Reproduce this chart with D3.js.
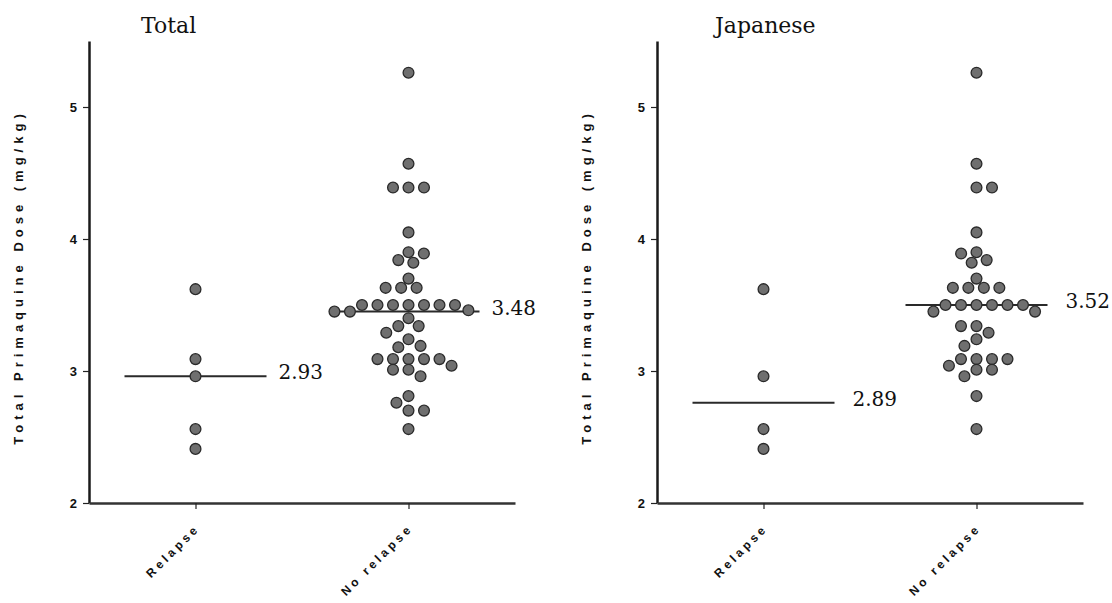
<!DOCTYPE html>
<html>
<head>
<meta charset="utf-8">
<script src="https://cdn.jsdelivr.net/npm/d3@7"></script>
<style>
  body { margin: 0; background: #fff; }
  svg { display: block; }
</style>
</head>
<body>
<svg id="chart" width="1112" height="603"></svg>
<script>
// values
var categories = ["Relapse", "No relapse"];
var panelTitles = ["Total", "Japanese"];
var yTicks = [2, 3, 4, 5];

var totalRelapse = [3.62, 3.09, 2.96, 2.56, 2.41];
var totalNoRelapse = [5.26, 4.57, 4.39, 4.39, 4.39, 4.05, 3.90, 3.89, 3.84, 3.82, 3.70,
  3.63, 3.63, 3.63, 3.50, 3.50, 3.50, 3.50, 3.50, 3.50, 3.50, 3.46, 3.45, 3.45, 3.40,
  3.34, 3.34, 3.29, 3.24, 3.19, 3.18, 3.09, 3.09, 3.09, 3.09, 3.09, 3.04, 3.01, 3.01,
  2.96, 2.81, 2.76, 2.70, 2.70, 2.56];
var totalMeans = ["2.93", "3.48"];

var japaneseRelapse = [3.62, 2.96, 2.56, 2.41];
var japaneseNoRelapse = [5.26, 4.57, 4.39, 4.39, 4.05, 3.90, 3.89, 3.84, 3.82, 3.70,
  3.63, 3.63, 3.63, 3.63, 3.50, 3.50, 3.50, 3.50, 3.50, 3.50, 3.45, 3.45, 3.34, 3.34,
  3.29, 3.24, 3.19, 3.09, 3.09, 3.09, 3.09, 3.04, 3.01, 3.01, 2.96, 2.81, 2.56];
var japaneseMeans = ["2.89", "3.52"];

var panels = [
  { title: panelTitles[0], x0: 89, groups: [totalRelapse, totalNoRelapse], means: totalMeans, titleDx: 52, gap: 12 },
  { title: panelTitles[1], x0: 657, groups: [japaneseRelapse, japaneseNoRelapse], means: japaneseMeans, titleDx: 58, gap: 18 }
];

var plotWidth = 426;
var dotR = 5.4;
var swarmDx = 15.5;   // horizontal spacing of dots on one row
var swarmDy = 10.5;   // vertical reach of a dot
var lineHalf = 71;

var svg = d3.select("#chart");

var yScale = d3.scaleLinear().domain([2, 5.5]).range([503, 41]);

// beeswarm: each dot goes to the free x nearest the centre (elliptic spacing)
function swarm(values) {
  var pts = values.map(function (v) { return { v: v, y: yScale(v) }; })
    .sort(function (a, b) { return a.y - b.y; });
  var placed = [];
  var side = 1;
  pts.forEach(function (p) {
    var near = placed.filter(function (q) { return Math.abs(q.y - p.y) < swarmDy; });
    var cands = [0];
    near.forEach(function (q) {
      var t = (q.y - p.y) / swarmDy;
      var w = swarmDx * Math.sqrt(1 - t * t);
      cands.push(q.x + w, q.x - w);
    });
    var ok = cands.filter(function (x) {
      return near.every(function (q) {
        var a = (x - q.x) / swarmDx, b = (p.y - q.y) / swarmDy;
        return a * a + b * b >= 0.999;
      });
    });
    ok.sort(function (a, b) {
      var d = Math.abs(a) - Math.abs(b);
      if (Math.abs(d) > 0.5) return d;
      return side * (b - a);
    });
    p.x = ok[0];
    if (Math.abs(p.x) > 0.5) side = -side;
    placed.push(p);
  });
  return pts;
}

panels.forEach(function (pan) {
  var g = svg.append("g").attr("class", "panel");

  var xScale = d3.scalePoint()
    .domain(categories)
    .range([pan.x0, pan.x0 + plotWidth])
    .padding(0.5);

  // title
  g.append("text")
    .attr("x", pan.x0 + pan.titleDx)
    .attr("y", 33)
    .style("font-family", "'DejaVu Serif', serif")
    .style("font-size", "22px")
    .style("fill", "#111")
    .text(pan.title);

  // y axis
  var yAxis = d3.axisLeft(yScale)
    .tickValues(yTicks)
    .tickFormat(d3.format("d"))
    .tickSize(6)
    .tickPadding(6)
    .tickSizeOuter(0);

  g.append("g")
    .attr("class", "y-axis")
    .attr("transform", "translate(" + pan.x0 + ",0)")
    .call(yAxis)
    .call(function (a) {
      a.select(".domain").style("stroke", "#1a1a1a").style("stroke-width", 2.5);
      a.selectAll(".tick line").style("stroke", "#222").style("stroke-width", 1.2);
      a.selectAll(".tick text")
        .style("font-family", "'Liberation Sans', Arial, sans-serif")
        .style("font-weight", "bold")
        .style("font-size", "13px")
        .style("fill", "#111");
    });

  // x axis
  var xAxis = d3.axisBottom(xScale).tickSize(6).tickSizeOuter(0).tickFormat("");

  g.append("g")
    .attr("class", "x-axis")
    .attr("transform", "translate(0," + yScale(2) + ")")
    .call(xAxis)
    .call(function (a) {
      a.select(".domain").style("stroke", "#333").style("stroke-width", 2.5);
      a.selectAll(".tick line").style("stroke", "#222").style("stroke-width", 1.2);
    });

  // rotated category labels
  g.selectAll(".cat-label")
    .data(categories)
    .join("text")
    .attr("class", "cat-label")
    .attr("transform", function (d) {
      return "translate(" + (xScale(d) + 5) + "," + (yScale(2) + 26) + ") rotate(-45)";
    })
    .attr("text-anchor", "end")
    .style("font-family", "'Liberation Sans', Arial, sans-serif")
    .style("font-weight", "bold")
    .style("font-size", "12px")
    .style("letter-spacing", "3.4px")
    .style("fill", "#111")
    .text(function (d) { return d; });

  // y axis title
  g.append("text")
    .attr("transform", "translate(" + (pan.x0 - 66) + "," + 277 + ") rotate(-90)")
    .attr("text-anchor", "middle")
    .style("font-family", "'Liberation Sans', Arial, sans-serif")
    .style("font-weight", "bold")
    .style("font-size", "13px")
    .style("letter-spacing", "5px")
    .style("fill", "#111")
    .text("Total Primaquine Dose (mg/kg)");

  // dots and median lines
  pan.groups.forEach(function (vals, i) {
    var cx = xScale(categories[i]);
    var pts = swarm(vals);
    var med = d3.median(vals);

    g.append("line")
      .attr("x1", cx - lineHalf)
      .attr("x2", cx + lineHalf)
      .attr("y1", yScale(med))
      .attr("y2", yScale(med))
      .style("stroke", "#2a2a2a")
      .style("stroke-width", 2);

    g.append("g")
      .selectAll("circle")
      .data(pts)
      .join("circle")
      .attr("cx", function (d) { return cx + d.x; })
      .attr("cy", function (d) { return d.y; })
      .attr("r", dotR)
      .style("fill", "#6f6f6f")
      .style("stroke", "#2a2a2a")
      .style("stroke-width", 1.3);

    g.append("text")
      .attr("x", cx + lineHalf + pan.gap)
      .attr("y", yScale(med) - 4)
      .attr("dy", "0.35em")
      .style("font-family", "'DejaVu Serif', serif")
      .style("font-size", "20px")
      .style("fill", "#111")
      .text(pan.means[i]);
  });
});
</script>
</body>
</html>
